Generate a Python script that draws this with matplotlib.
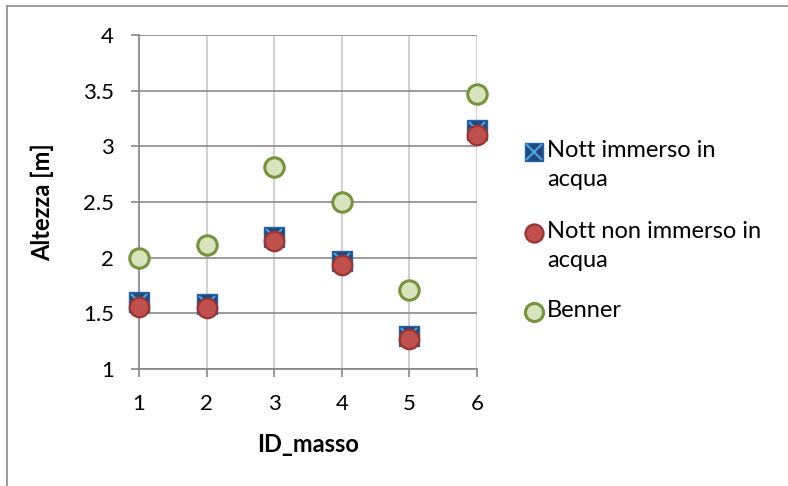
import matplotlib
matplotlib.use("Agg")
import matplotlib.pyplot as plt
from matplotlib.lines import Line2D

# Data
id_masso = [1, 2, 3, 4, 5, 6]
nott_immerso = [1.60, 1.58, 2.19, 1.97, 1.30, 3.15]
nott_non_immerso = [1.56, 1.55, 2.15, 1.93, 1.27, 3.10]
benner = [2.00, 2.11, 2.81, 2.50, 1.71, 3.47]

y_ticks = [1, 1.5, 2, 2.5, 3, 3.5, 4]
y_ticklabels = ["1", "1.5", "2", "2.5", "3", "3.5", "4"]
labels = ["Nott immerso in\nacqua", "Nott non immerso in\nacqua", "Benner"]

plt.rcParams["font.family"] = ["Lato", "DejaVu Sans"]

W, H = 788, 486
fig = plt.figure(figsize=(W / 100, H / 100), dpi=100)
ax = fig.add_axes([139 / W, 1 - 369 / H, 338 / W, 334 / H])

# chart frame: only left and top edges are visible in the reference
frame_col = "#8c8c8c"
fig.add_artist(Line2D([7 / W, 7 / W], [0, 1 - 6 / H], transform=fig.transFigure,
                      color=frame_col, linewidth=1.2))
fig.add_artist(Line2D([7 / W, 1], [1 - 6 / H, 1 - 6 / H], transform=fig.transFigure,
                      color=frame_col, linewidth=1.2))

ms = 14
sq_style = dict(linestyle="none", marker="s", markerfacecolor="#1f497d",
                markeredgecolor="#2a62a6", markeredgewidth=1.0)
x_style = dict(linestyle="none", marker="x", markeredgecolor="#4f9fe0", markeredgewidth=1.6)
red_style = dict(linestyle="none", marker="o", markerfacecolor="#c0504d",
                 markeredgecolor="#9b3532", markeredgewidth=1.6)
grn_style = dict(linestyle="none", marker="o", markerfacecolor="#d7e4bd",
                 markeredgecolor="#77933c", markeredgewidth=2.2)

ax.plot(id_masso, nott_immerso, markersize=ms, zorder=3, clip_on=False, **sq_style)
ax.plot(id_masso, nott_immerso, markersize=ms - 2, zorder=3, clip_on=False, **x_style)
ax.plot(id_masso, nott_non_immerso, markersize=ms, zorder=4, clip_on=False, **red_style)
ax.plot(id_masso, benner, markersize=ms, zorder=3, clip_on=False, **grn_style)

ax.set_xlim(1, 6)
ax.set_ylim(1, 4)
ax.set_xticks(id_masso)
ax.set_yticks(y_ticks)
ax.set_yticklabels(y_ticklabels)
ax.yaxis.grid(True, color="#8a8a8a", linewidth=1.2)
ax.xaxis.grid(True, color="#c8c8c8", linewidth=1.2)
ax.set_axisbelow(True)
for side in ["top", "right"]:
    ax.spines[side].set_visible(False)
for side in ["left", "bottom"]:
    ax.spines[side].set_color("#868686")
    ax.spines[side].set_linewidth(1.2)
ax.tick_params(direction="out", length=6, width=1.2, color="#868686", labelsize=16)
ax.tick_params(axis="y", pad=12)
ax.tick_params(axis="x", pad=12)
ax.set_xlabel("ID_masso", fontsize=17, fontweight="bold", labelpad=14)
ax.set_ylabel("Altezza [m]", fontsize=17, fontweight="bold", labelpad=21)

# legend drawn by hand so markers line up with the first text line
leg_x_marker = 534 / W
leg_x_text = 547 / W
leg_y = [152, 233, 312]
leg_handles = [[sq_style, x_style], [red_style], [grn_style]]
for lab, yy, styles in zip(labels, leg_y, leg_handles):
    yf = 1 - yy / H
    for st in styles:
        size = ms - 3 if st["marker"] == "x" else ms - 1
        fig.add_artist(Line2D([leg_x_marker], [yf], transform=fig.transFigure,
                              markersize=size, **st))
    fig.text(leg_x_text, yf + 12 / H, lab, fontsize=17, va="top", ha="left",
             linespacing=1.45, transform=fig.transFigure)

fig.savefig("out.png", dpi=100)
